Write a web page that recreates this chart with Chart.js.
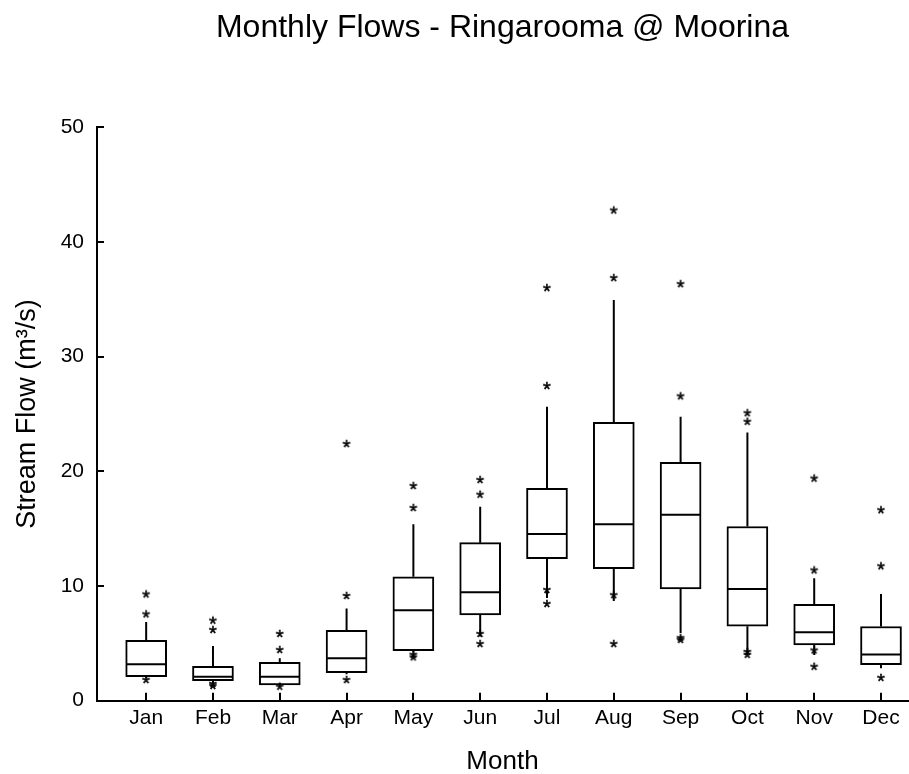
<!DOCTYPE html>
<html>
<head>
<meta charset="utf-8">
<title>Monthly Flows - Ringarooma @ Moorina</title>
<script src="https://cdn.jsdelivr.net/npm/chart.js@4.4.1/dist/chart.umd.min.js"></script>
<style>
  html, body { margin: 0; padding: 0; background: #fff; }
  #wrap { width: 909px; height: 774px; }
</style>
</head>
<body>
<div id="wrap"><canvas id="flow-chart" width="909" height="774"></canvas></div>
<script>
// Monthly stream flow statistics (m3/s)
const months = ['Jan', 'Feb', 'Mar', 'Apr', 'May', 'Jun', 'Jul', 'Aug', 'Sep', 'Oct', 'Nov', 'Dec'];
const q1 = [2.09, 1.74, 1.37, 2.44, 4.36, 7.47, 12.38, 11.51, 9.74, 6.50, 4.87, 3.14];
const medians = [3.17, 2.09, 2.09, 3.70, 7.88, 9.45, 14.53, 15.38, 16.22, 9.74, 5.97, 4.02];
const q3 = [5.27, 3.00, 3.35, 6.14, 10.81, 13.78, 18.52, 24.27, 20.79, 15.19, 8.41, 6.47];
const whiskerHigh = [6.86, 4.77, 3.70, 8.05, 15.38, 16.92, 25.63, 34.93, 24.77, 23.38, 10.68, 9.30];
const whiskerLow = [1.95, 1.57, 1.30, 2.30, 4.20, 5.60, 8.95, 8.70, 5.90, 4.16, 3.98, 2.82];
const outliers = [
    [9.27, 7.53, 1.80],
    [6.98, 6.16, 1.46, 1.28],
    [5.82, 4.42, 1.22],
    [22.38, 9.13, 1.80],
    [18.72, 16.80, 4.00, 3.78],
    [19.24, 17.96, 5.82, 4.94],
    [35.98, 27.44, 9.65, 8.43],
    [42.75, 36.85, 9.20, 4.94],
    [36.32, 26.54, 5.46, 5.30],
    [25.07, 24.32, 4.25, 4.00],
    [19.37, 11.36, 4.38, 2.96],
    [16.61, 11.72, 1.99]
];
const yTicks = [0, 10, 20, 30, 40, 50];

const FONT = '"Liberation Sans", Arial, Helvetica, sans-serif';
const BOX_WIDTH = 41;

// asterisk marker drawn as a small canvas so points look like the "*" glyph
function makeStar() {
    const c = document.createElement('canvas');
    c.width = 16; c.height = 16;
    const g = c.getContext('2d');
    g.font = '20px ' + FONT;
    g.textAlign = 'center';
    g.fillStyle = '#000';
    g.strokeStyle = '#000';
    g.lineWidth = 0.5;
    const m = g.measureText('*');
    const base = 8 + (m.actualBoundingBoxAscent - m.actualBoundingBoxDescent) / 2;
    g.fillText('*', 8, base);
    g.strokeText('*', 8, base);
    return c;
}
const star = makeStar();

// build the datasets from the arrays above
const boxData = months.map((_, i) => ({ x: i + 1, y: [q1[i], q3[i]] }));
const medianData = months.map((_, i) => ({ x: i + 1, y: medians[i] }));
const whiskerData = [];
months.forEach((_, i) => {
    whiskerData.push({ x: i + 1, y: q3[i] }, { x: i + 1, y: whiskerHigh[i] }, { x: i + 1, y: null });
    whiskerData.push({ x: i + 1, y: q1[i] }, { x: i + 1, y: whiskerLow[i] }, { x: i + 1, y: null });
});
const outlierData = [];
outliers.forEach((vals, i) => vals.forEach(v => outlierData.push({ x: i + 1, y: v })));

// drop the label overflow padding so the plot area matches the original
function noSidePadding(s) {
    s.paddingLeft = 0;
    s.paddingRight = 0;
}

new Chart(document.getElementById('flow-chart'), {
    type: 'bar',
    data: {
        datasets: [
            {
                type: 'scatter',
                xAxisID: 'x',
                yAxisID: 'y',
                data: whiskerData,
                showLine: true,
                spanGaps: false,
                borderColor: '#000',
                borderWidth: 2,
                pointRadius: 0,
                order: 3
            },
            {
                type: 'bar',
                xAxisID: 'x',
                yAxisID: 'y',
                data: boxData,
                backgroundColor: '#fff',
                borderColor: '#000',
                borderWidth: 2,
                borderSkipped: false,
                barThickness: BOX_WIDTH,
                order: 2
            },
            {
                type: 'scatter',
                xAxisID: 'x',
                yAxisID: 'y',
                data: medianData,
                pointStyle: 'line',
                pointRadius: BOX_WIDTH / 2 - 1,
                borderColor: '#000',
                borderWidth: 2,
                order: 1
            },
            {
                type: 'scatter',
                xAxisID: 'x',
                yAxisID: 'y',
                data: outlierData,
                pointStyle: star,
                pointRadius: 8,
                order: 0
            }
        ]
    },
    options: {
        responsive: false,
        animation: false,
        devicePixelRatio: 1,
        layout: { autoPadding: false, padding: { left: 0, right: 1, top: 0, bottom: 0 } },
        plugins: {
            legend: { display: false },
            tooltip: { enabled: false },
            title: { display: false }
        },
        scales: {
            x: {
                type: 'linear',
                min: 0.264,
                max: 12.404,
                offset: false,
                afterBuildTicks: s => { s.ticks = months.map((_, i) => ({ value: i + 1 })); },
                afterFit: s => { s.height = 73.3; noSidePadding(s); },
                ticks: {
                    autoSkip: false,
                    maxRotation: 0,
                    padding: 13,
                    color: '#000',
                    font: { family: FONT, size: 21 },
                    callback: v => months[v - 1]
                },
                grid: { offset: false, drawOnChartArea: false, drawTicks: true, tickLength: -8, color: '#000', lineWidth: 2 },
                border: { display: true, color: '#000', width: 2 },
                title: {
                    display: true,
                    text: 'Month',
                    color: '#000',
                    font: { family: FONT, size: 26, lineHeight: 0.9 },
                    padding: { top: 0, bottom: 0 }
                }
            },
            y: {
                type: 'linear',
                min: 0,
                max: 50,
                afterBuildTicks: s => { s.ticks = yTicks.map(v => ({ value: v })); },
                afterFit: s => { s.width = 97; },
                ticks: {
                    padding: 20,
                    color: '#000',
                    font: { family: FONT, size: 21 }
                },
                grid: { drawOnChartArea: false, drawTicks: true, tickLength: -7, color: '#000', lineWidth: 2 },
                border: { display: true, color: '#000', width: 2 },
                title: {
                    display: true,
                    text: 'Stream Flow (m³/s)',
                    color: '#000',
                    font: { family: FONT, size: 27, lineHeight: 1 },
                    padding: { top: 14, bottom: 0 }
                }
            },
            // empty top axis only carries the chart title, centred over the plot
            top: {
                type: 'linear',
                axis: 'x',
                position: 'top',
                grid: { display: false },
                border: { display: false },
                ticks: { display: false },
                afterFit: s => { s.height = 127.3; noSidePadding(s); },
                title: {
                    display: true,
                    text: 'Monthly Flows - Ringarooma @ Moorina',
                    color: '#000',
                    font: { family: FONT, size: 32, weight: 'normal', lineHeight: 1.2 },
                    padding: { top: 8.5, bottom: 0 }
                }
            }
        }
    }
});
</script>
</body>
</html>
